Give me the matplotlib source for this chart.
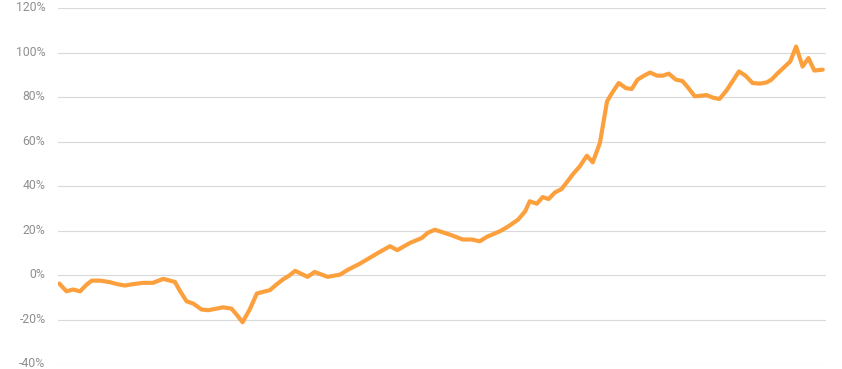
import matplotlib
matplotlib.use("Agg")
import matplotlib.pyplot as plt
import matplotlib.transforms as mtransforms

# Week index and cumulative return (%)
weeks = [0, 1.1, 2.1, 3.2, 4.2, 5.0, 6.3, 7.8, 8.8, 10.1, 11.3, 12.9, 14.4, 16.0, 17.8,
         18.6, 19.6, 20.6, 21.9, 22.9, 24.2, 25.2, 26.5, 27.3, 28.2, 29.3, 30.4, 31.3,
         32.4, 33.4, 34.4, 35.4, 36.3, 38.2, 39.3, 41.3, 43.2, 44.3, 46.3, 48.9, 50.9,
         52.0, 54.0, 55.8, 56.7, 57.8, 60.1, 62.1, 63.5, 64.7, 65.8, 67.8, 69.0, 70.6,
         71.7, 72.4, 73.5, 74.4, 75.3, 76.3, 77.3, 78.1, 79.0, 80.1, 81.2, 82.1, 83.2,
         84.3, 85.0, 86.1, 87.2, 88.1, 89.0, 90.0, 90.9, 92.0, 92.9, 93.8, 94.9, 95.9,
         96.7, 97.8, 98.9, 99.6, 100.6, 101.6, 102.7, 103.6, 104.6, 105.6, 106.7, 107.8,
         108.9, 109.6, 110.5, 111.6, 112.5, 113.4, 114.4, 115.3, 116.2, 117.5]
returns = [-3.8, -7.3, -6.5, -7.3, -4.3, -2.5, -2.5, -3.2, -4.0, -4.7, -4.1, -3.5, -3.5,
           -1.7, -3.1, -7.3, -11.8, -12.8, -15.5, -15.8, -15.1, -14.5, -15.1, -17.8,
           -21.2, -15.5, -8.3, -7.6, -6.8, -4.3, -2.0, -0.2, 1.9, -0.8, 1.4, -0.8, 0.2,
           2.2, 5.2, 9.7, 13.0, 11.2, 14.5, 16.7, 19.0, 20.4, 18.2, 16.0, 16.0, 15.2,
           17.2, 19.7, 21.7, 24.9, 28.7, 33.2, 32.1, 35.1, 34.2, 37.2, 38.7, 41.7, 45.2,
           48.9, 53.7, 50.7, 59.4, 78.1, 81.6, 86.4, 84.1, 83.7, 87.9, 89.7, 91.1, 89.7,
           89.7, 90.6, 87.9, 87.3, 84.6, 80.4, 80.7, 81.0, 79.8, 79.2, 83.1, 87.1, 91.6,
           89.7, 86.4, 86.1, 86.7, 87.9, 90.6, 93.6, 96.1, 102.8, 93.8, 97.6, 92.0, 92.4]

y_ticks = [-40, -20, 0, 20, 40, 60, 80, 100, 120]
y_tick_labels = [f"{v}%" for v in y_ticks]

plt.rcParams['font.family'] = ['Roboto', 'DejaVu Sans']

fig = plt.figure(figsize=(8.42, 3.69), dpi=100)
ax = fig.add_axes([58 / 842, (369 - 364) / 369, (826 - 58) / 842, (364 - 8.3) / 369])

ax.plot(weeks, returns, color='#FCA03D', lw=3.0, solid_joinstyle='round',
        solid_capstyle='round', zorder=3)

ax.set_xlim(-0.2, 118.0)
ax.set_ylim(-40, 120)
ax.set_yticks(y_ticks)
ax.set_yticklabels(y_tick_labels)
ax.set_xticks([])
ax.grid(axis='y', color='#d9d9d9', lw=0.8)
ax.set_axisbelow(True)
for s in ax.spines.values():
    s.set_visible(False)
ax.tick_params(axis='y', length=0, pad=9.0, labelsize=8.8, labelcolor='#8f8f8f')

offset = mtransforms.ScaledTranslation(0, 2 / 100, fig.dpi_scale_trans)
for lab in ax.get_yticklabels():
    lab.set_transform(lab.get_transform() + offset)

fig.savefig('out.png', dpi=100)
